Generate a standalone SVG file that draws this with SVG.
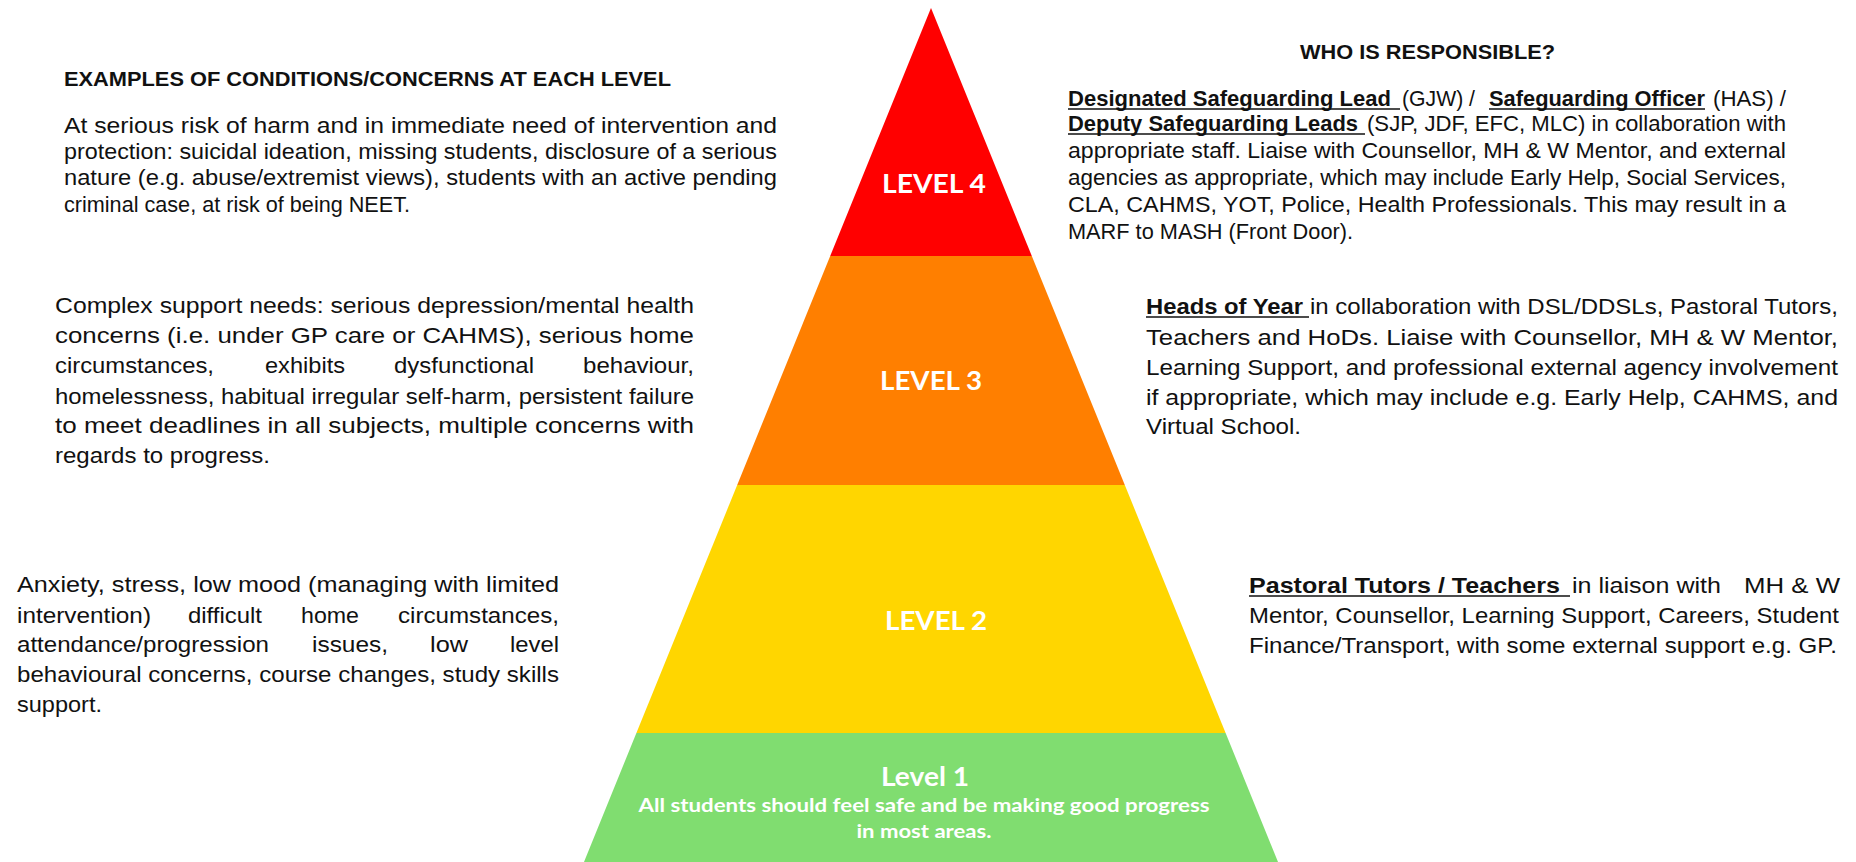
<svg xmlns="http://www.w3.org/2000/svg" width="1856" height="862" viewBox="0 0 1856 862">
<style>
.b{font-family:"Liberation Sans",Arial,sans-serif;font-size:22.5px;fill:#111}
.bb{font-family:"Liberation Sans",Arial,sans-serif;font-size:22.5px;font-weight:bold;fill:#111}
.h{font-family:"Liberation Sans",Arial,sans-serif;font-size:21px;font-weight:bold;fill:#111}
.lv{font-family:Lato,"Open Sans",sans-serif;font-weight:bold;fill:#fff;text-anchor:middle}
.ul{stroke:#111;stroke-width:1.6}
</style>
<rect width="1856" height="862" fill="#fff"/>
<g id="level4">
<polygon points="931,8 1031.8,256 830.2,256" fill="#ff0000"/>
<text class="lv" x="934" y="193" font-size="27" textLength="104" lengthAdjust="spacingAndGlyphs">LEVEL 4</text>
</g>
<g id="level3">
<polygon points="830.2,256 1031.8,256 1124.8,485 737.2,485" fill="#ff7f00"/>
<text class="lv" x="931" y="390" font-size="27" textLength="102" lengthAdjust="spacingAndGlyphs">LEVEL 3</text>
</g>
<g id="level2">
<polygon points="737.2,485 1124.8,485 1225.6,733 636.4,733" fill="#ffd600"/>
<text class="lv" x="936" y="630" font-size="27" textLength="102" lengthAdjust="spacingAndGlyphs">LEVEL 2</text>
</g>
<g id="level1">
<polygon points="636.4,733 1225.6,733 1278,862 584,862" fill="#80dd70"/>
<text class="lv" x="925" y="786" font-size="26" textLength="88" lengthAdjust="spacingAndGlyphs">Level 1</text>
<text class="lv" x="924" y="812" font-size="19.5" textLength="571" lengthAdjust="spacingAndGlyphs">All students should feel safe and be making good progress</text>
<text class="lv" x="924" y="838" font-size="19.5" textLength="135" lengthAdjust="spacingAndGlyphs">in most areas.</text>
</g>
<g id="heading-left">
<text class="h" x="64" y="86" textLength="607" lengthAdjust="spacingAndGlyphs">EXAMPLES OF CONDITIONS/CONCERNS AT EACH LEVEL</text>
</g>
<g id="heading-right">
<text class="h" x="1300" y="59" textLength="255" lengthAdjust="spacingAndGlyphs">WHO IS RESPONSIBLE?</text>
</g>
<g id="concerns-level4">
<text class="b" x="64" y="133" textLength="713" lengthAdjust="spacingAndGlyphs">At serious risk of harm and in immediate need of intervention and</text>
<text class="b" x="64" y="159" textLength="713" lengthAdjust="spacingAndGlyphs">protection: suicidal ideation, missing students, disclosure of a serious</text>
<text class="b" x="64" y="185" textLength="713" lengthAdjust="spacingAndGlyphs">nature (e.g. abuse/extremist views), students with an active pending</text>
<text class="b" x="64" y="212" textLength="346" lengthAdjust="spacingAndGlyphs">criminal case, at risk of being NEET.</text>
</g>
<g id="concerns-level3">
<text class="b" x="55" y="313" textLength="639" lengthAdjust="spacingAndGlyphs">Complex support needs: serious depression/mental health</text>
<text class="b" x="55" y="343" textLength="639" lengthAdjust="spacingAndGlyphs">concerns (i.e. under GP care or CAHMS), serious home</text>
<text class="b" x="55" y="373" textLength="159" lengthAdjust="spacingAndGlyphs">circumstances,</text>
<text class="b" x="265" y="373" textLength="80" lengthAdjust="spacingAndGlyphs">exhibits</text>
<text class="b" x="394" y="373" textLength="140" lengthAdjust="spacingAndGlyphs">dysfunctional</text>
<text class="b" x="583" y="373" textLength="111" lengthAdjust="spacingAndGlyphs">behaviour,</text>
<text class="b" x="55" y="404" textLength="639" lengthAdjust="spacingAndGlyphs">homelessness, habitual irregular self-harm, persistent failure</text>
<text class="b" x="55" y="433" textLength="639" lengthAdjust="spacingAndGlyphs">to meet deadlines in all subjects, multiple concerns with</text>
<text class="b" x="55" y="463" textLength="215" lengthAdjust="spacingAndGlyphs">regards to progress.</text>
</g>
<g id="concerns-level2">
<text class="b" x="17" y="592" textLength="542" lengthAdjust="spacingAndGlyphs">Anxiety, stress, low mood (managing with limited</text>
<text class="b" x="17" y="623" textLength="134" lengthAdjust="spacingAndGlyphs">intervention)</text>
<text class="b" x="188" y="623" textLength="74" lengthAdjust="spacingAndGlyphs">difficult</text>
<text class="b" x="301" y="623" textLength="58" lengthAdjust="spacingAndGlyphs">home</text>
<text class="b" x="398" y="623" textLength="161" lengthAdjust="spacingAndGlyphs">circumstances,</text>
<text class="b" x="17" y="652" textLength="252" lengthAdjust="spacingAndGlyphs">attendance/progression</text>
<text class="b" x="312" y="652" textLength="76" lengthAdjust="spacingAndGlyphs">issues,</text>
<text class="b" x="430" y="652" textLength="38" lengthAdjust="spacingAndGlyphs">low</text>
<text class="b" x="510" y="652" textLength="49" lengthAdjust="spacingAndGlyphs">level</text>
<text class="b" x="17" y="682" textLength="542" lengthAdjust="spacingAndGlyphs">behavioural concerns, course changes, study skills</text>
<text class="b" x="17" y="712" textLength="85" lengthAdjust="spacingAndGlyphs">support.</text>
</g>
<g id="responsible-level4">
<text class="bb" x="1068" y="106" textLength="323" lengthAdjust="spacingAndGlyphs">Designated Safeguarding Lead</text>
<line class="ul" x1="1068" y1="109" x2="1400" y2="109"/>
<text class="b" x="1402" y="106" textLength="73" lengthAdjust="spacingAndGlyphs">(GJW) /</text>
<text class="bb" x="1489" y="106" textLength="216" lengthAdjust="spacingAndGlyphs">Safeguarding Officer</text>
<line class="ul" x1="1489" y1="109" x2="1705" y2="109"/>
<text class="b" x="1713" y="106" textLength="73" lengthAdjust="spacingAndGlyphs">(HAS) /</text>
<text class="bb" x="1068" y="131" textLength="290" lengthAdjust="spacingAndGlyphs">Deputy Safeguarding Leads</text>
<line class="ul" x1="1068" y1="134" x2="1365" y2="134"/>
<text class="b" x="1367" y="131" textLength="419" lengthAdjust="spacingAndGlyphs">(SJP, JDF, EFC, MLC) in collaboration with</text>
<text class="b" x="1068" y="158" textLength="718" lengthAdjust="spacingAndGlyphs">appropriate staff. Liaise with Counsellor, MH &amp; W Mentor, and external</text>
<text class="b" x="1068" y="185" textLength="718" lengthAdjust="spacingAndGlyphs">agencies as appropriate, which may include Early Help, Social Services,</text>
<text class="b" x="1068" y="212" textLength="718" lengthAdjust="spacingAndGlyphs">CLA, CAHMS, YOT, Police, Health Professionals. This may result in a</text>
<text class="b" x="1068" y="239" textLength="285" lengthAdjust="spacingAndGlyphs">MARF to MASH (Front Door).</text>
</g>
<g id="responsible-level3">
<text class="bb" x="1146" y="314" textLength="157" lengthAdjust="spacingAndGlyphs">Heads of Year</text>
<line class="ul" x1="1146" y1="317" x2="1309" y2="317"/>
<text class="b" x="1310" y="314" textLength="528" lengthAdjust="spacingAndGlyphs">in collaboration with DSL/DDSLs, Pastoral Tutors,</text>
<text class="b" x="1146" y="345" textLength="692" lengthAdjust="spacingAndGlyphs">Teachers and HoDs. Liaise with Counsellor, MH &amp; W Mentor,</text>
<text class="b" x="1146" y="375" textLength="692" lengthAdjust="spacingAndGlyphs">Learning Support, and professional external agency involvement</text>
<text class="b" x="1146" y="405" textLength="692" lengthAdjust="spacingAndGlyphs">if appropriate, which may include e.g. Early Help, CAHMS, and</text>
<text class="b" x="1146" y="434" textLength="155" lengthAdjust="spacingAndGlyphs">Virtual School.</text>
</g>
<g id="responsible-level2">
<text class="bb" x="1249" y="593" textLength="311" lengthAdjust="spacingAndGlyphs">Pastoral Tutors / Teachers</text>
<line class="ul" x1="1249" y1="596" x2="1570" y2="596"/>
<text class="b" x="1572" y="593" textLength="149" lengthAdjust="spacingAndGlyphs">in liaison with</text>
<text class="b" x="1744" y="593" textLength="96" lengthAdjust="spacingAndGlyphs">MH &amp; W</text>
<text class="b" x="1249" y="623" textLength="590" lengthAdjust="spacingAndGlyphs">Mentor, Counsellor, Learning Support, Careers, Student</text>
<text class="b" x="1249" y="653" textLength="588" lengthAdjust="spacingAndGlyphs">Finance/Transport, with some external support e.g. GP.</text>
</g>
<g id="connectors"/>
</svg>
